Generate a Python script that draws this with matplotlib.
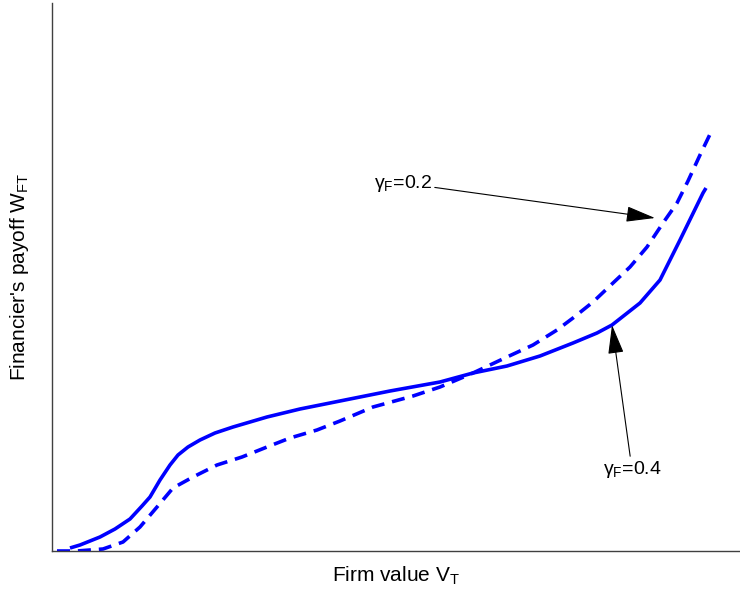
import matplotlib.pyplot as plt

plt.rcParams['font.family'] = ['Liberation Sans', 'DejaVu Sans']
plt.rcParams['mathtext.fontset'] = 'custom'
plt.rcParams['mathtext.rm'] = 'Liberation Sans'
plt.rcParams['mathtext.it'] = 'Liberation Sans:italic'
plt.rcParams['mathtext.sf'] = 'Liberation Sans'

# curves (arbitrary units, no ticks on the chart)
v_solid = [18, 28, 48, 63, 78, 90, 98, 108, 118, 126, 136, 148, 163, 181, 215,
           248, 298, 338, 388, 421, 455, 488, 521, 545, 560, 588, 608, 628, 651, 654]
w_solid = [3, 6, 14, 22, 32, 45, 54, 71, 86, 96, 104, 111, 118, 124, 134,
           142, 152, 160, 169, 178, 185, 195, 208, 218, 226, 248, 271, 311, 358, 363]

v_dash = [5, 25, 51, 71, 88, 105, 121, 141, 165, 190, 215, 238, 265, 288, 321,
          361, 388, 421, 455, 481, 505, 521, 541, 561, 578, 595, 611, 625, 636,
          648, 661]
w_dash = [0, 0, 2, 9, 24, 44, 63, 74, 86, 94, 104, 113, 121, 130, 144,
          155, 164, 178, 194, 206, 221, 233, 249, 268, 284, 304, 328, 348, 370,
          396, 423]

fig = plt.figure(figsize=(7.40, 5.99), dpi=100)
ax = fig.add_axes([52 / 740, 48 / 599, 688 / 740, 548 / 599])

ax.plot(v_solid, w_solid, color='#0000ff', lw=2.6, solid_capstyle='butt',
        solid_joinstyle='round')
ax.plot(v_dash, w_dash, color='#0000ff', lw=2.6, dashes=(3.6, 2.2),
        dash_capstyle='butt', dash_joinstyle='round')

ax.set_xlim(0, 688)
ax.set_ylim(0, 548)
ax.set_xticks([])
ax.set_yticks([])
for s in ['top', 'right']:
    ax.spines[s].set_visible(False)
for s in ['left', 'bottom']:
    ax.spines[s].set_color('#404040')
    ax.spines[s].set_linewidth(1.0)

ax.set_xlabel('Firm value V$_{\\rm T}$', fontsize=15, labelpad=10)
ax.set_ylabel("Financier's payoff W$_{\\rm FT}$", fontsize=15, labelpad=15)

arrow = dict(arrowstyle='-|>,head_length=1.3,head_width=0.35', color='black',
             lw=0.8, shrinkA=0, shrinkB=0)
ax.annotate('γ$_{\\rm F}$=0.2', xy=(603, 333), xytext=(380, 368),
            fontsize=14, ha='right', va='center', arrowprops=arrow)
ax.annotate('γ$_{\\rm F}$=0.4', xy=(560, 226), xytext=(580, 92),
            fontsize=14, ha='center', va='top', arrowprops=arrow)

fig.savefig('out.png', dpi=100)
